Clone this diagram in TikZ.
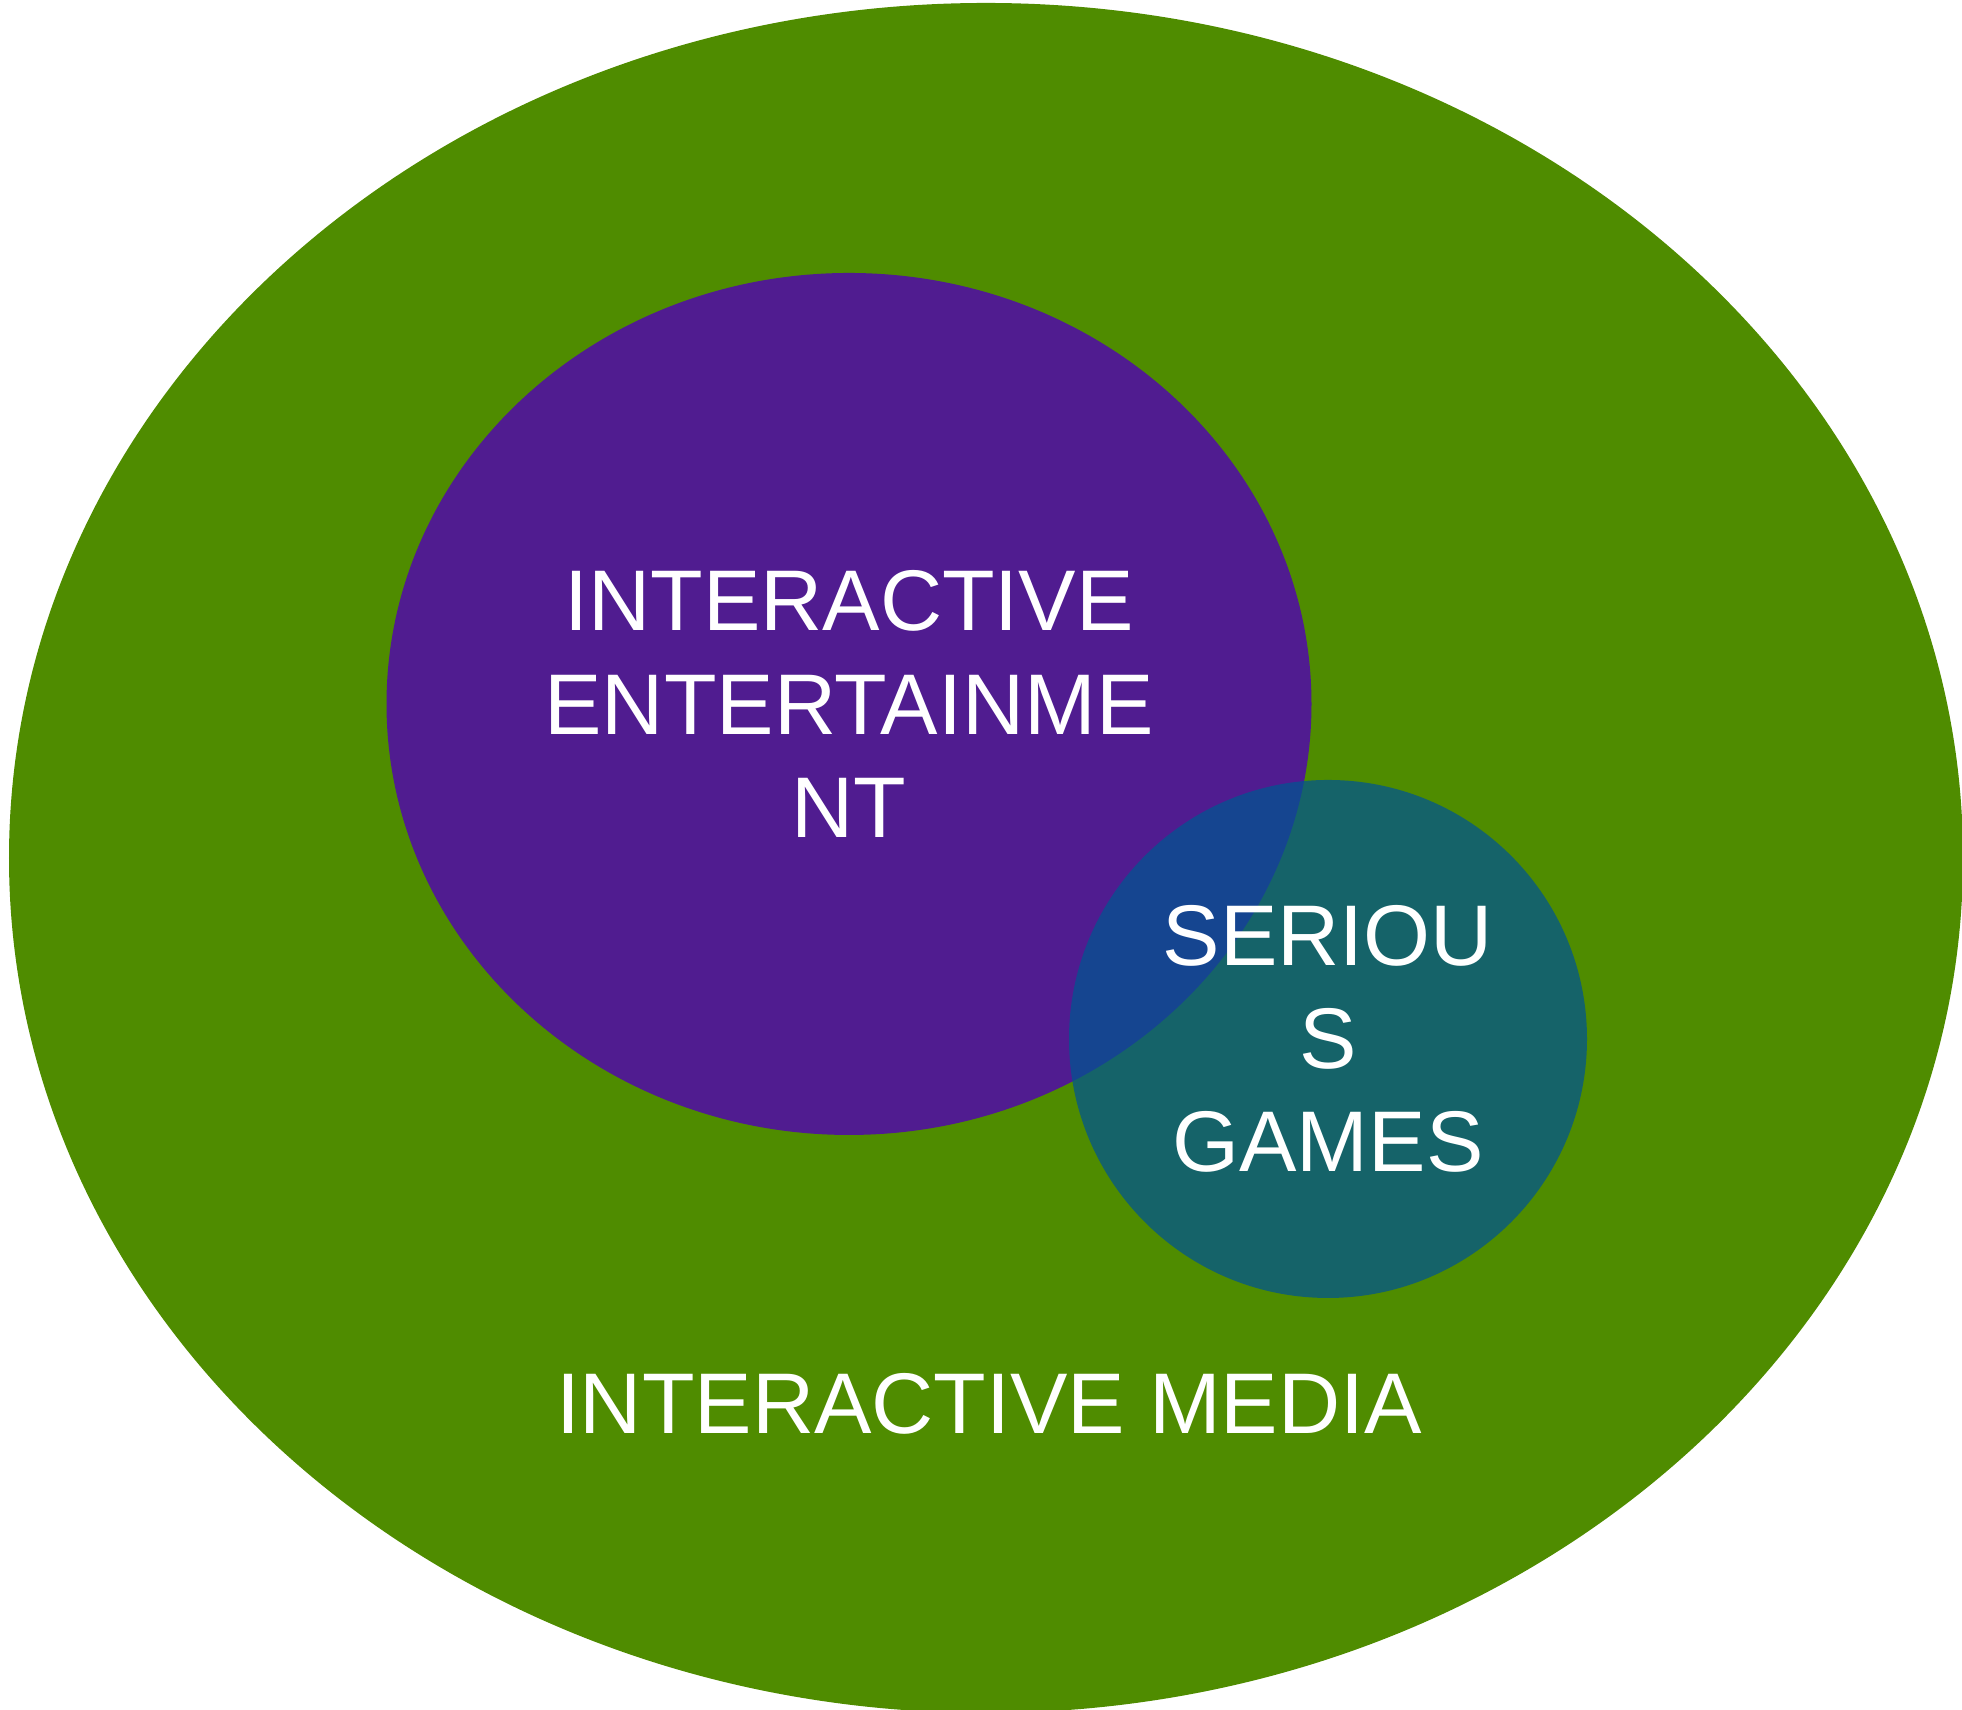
\documentclass[tikz,border=0pt]{standalone}
\usepackage{fontspec}
\setmainfont{Liberation Sans}
\usetikzlibrary{shapes.geometric}
\definecolor{mediagreen}{RGB}{79,140,0}
\definecolor{entpurple}{RGB}{80,28,144}
\definecolor{gamesblue}{RGB}{0,85,144}
\tikzset{
  label text/.style={text=white, align=center, font=\fontsize{24.5}{29.4}\selectfont},
  set/.style={ellipse, inner sep=0pt, label text}
}
\begin{document}
\begin{tikzpicture}
        \useasboundingbox (0,0) rectangle (19.62,17.10);
        \clip (0,0) rectangle (19.62,17.10);
        \fill[mediagreen] (9.86,8.52) ellipse [x radius=9.77cm, y radius=8.55cm];
        \node[set, fill=entpurple, minimum width=9.25cm, minimum height=8.62cm] (ent) at (8.49,10.06) {INTERACTIVE\\ENTERTAINME\\NT};
        \node[set, fill=gamesblue, fill opacity=0.73, text opacity=1, minimum width=5.18cm, minimum height=5.18cm] (games) at (13.28,6.71) {SERIOU\\S\\GAMES};
        \node[label text] (media) at (9.89,3.06) {INTERACTIVE MEDIA};
      \end{tikzpicture}
\end{document}
